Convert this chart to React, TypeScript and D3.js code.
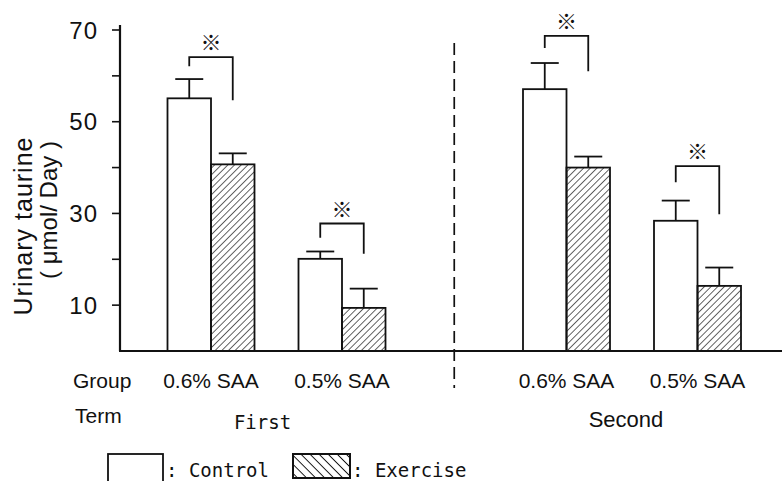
import * as d3 from 'd3';

// ── Data ──────────────────────────────────────────────────────────────────────
const TERMS  = ['First', 'Second'];
const GROUPS = ['0.6% SAA', '0.5% SAA'];
const SERIES = ['Control', 'Exercise'];

// cells in order: First/0.6, First/0.5, Second/0.6, Second/0.5
const CONTROL_MEAN  = [55.1, 20.1, 57.1, 28.4];
const CONTROL_SE    = [4.2, 1.6, 5.7, 4.4];
const EXERCISE_MEAN = [40.7, 9.4, 40.0, 14.2];
const EXERCISE_SE   = [2.4, 4.2, 2.4, 4.0];

// significance brackets (value of top bar, and where each leg stops)
const BRACKET_TOP       = [64.1, 27.8, 68.7, 40.3];
const BRACKET_LEFT_END  = [62.1, 24.7, 66.1, 36.8];
const BRACKET_RIGHT_END = [54.7, 21.2, 61.0, 29.8];

const Y_TICKS  = [10, 20, 30, 40, 50, 60, 70];
const Y_LABELS = [10, 30, 50, 70];

// ── Layout ────────────────────────────────────────────────────────────────────
const W = 782;
const H = 481;
const AXIS_X = 120;
const AXIS_TOP = 25;
const BASE_Y = 351;

const SANS = '"Liberation Sans", Arial, sans-serif';
const MONO = '"DejaVu Sans Mono", monospace';
const INK = '#111';

export default function App() {
  const y = d3.scaleLinear().domain([0, 70]).range([BASE_Y, 30]);
  const termX = d3.scalePoint<string>().domain(TERMS).range([276.5, 632]);
  const groupX = d3.scalePoint<string>().domain(GROUPS).range([-65.5, 65.5]);
  const barX = d3.scaleBand<string>().domain(SERIES).range([-43.5, 43.5]);
  const BW = barX.bandwidth();

  const cells = TERMS.flatMap((t, ti) =>
    GROUPS.map((g, gi) => {
      const i = ti * 2 + gi;
      return {
        i, term: t, group: g,
        cx: (termX(t) ?? 0) + (groupX(g) ?? 0),
        vals: [
          { s: SERIES[0], mean: CONTROL_MEAN[i], se: CONTROL_SE[i] },
          { s: SERIES[1], mean: EXERCISE_MEAN[i], se: EXERCISE_SE[i] },
        ],
      };
    })
  );

  const sepX = ((termX(TERMS[0]) ?? 0) + (termX(TERMS[1]) ?? 0)) / 2;

  return (
    <svg width={W} height={H} style={{ position: 'absolute', left: 0, top: 0, background: '#fff' }}>
      <defs>
        <pattern id="hatch" width={4.7} height={4.7} patternUnits="userSpaceOnUse" patternTransform="rotate(45)">
          <line x1={0} y1={0} x2={0} y2={4.7} stroke={INK} strokeWidth={1.3} />
        </pattern>
        <pattern id="hatchLegend" width={6.4} height={6.4} patternUnits="userSpaceOnUse" patternTransform="rotate(-45)">
          <line x1={0} y1={0} x2={0} y2={6.4} stroke={INK} strokeWidth={1.9} />
        </pattern>
      </defs>

      {/* y axis */}
      <line x1={AXIS_X} x2={AXIS_X} y1={AXIS_TOP} y2={BASE_Y} stroke={INK} strokeWidth={2.2} />
      {Y_TICKS.map(v => (
        <line key={v} x1={AXIS_X - 8} x2={AXIS_X} y1={y(v)} y2={y(v)} stroke={INK} strokeWidth={1.6} />
      ))}
      {Y_LABELS.map(v => (
        <text key={v} x={98} y={y(v)} textAnchor="end" dominantBaseline="central"
          fontSize={24} letterSpacing={1} fontFamily={SANS} fill={INK}>{v}</text>
      ))}

      {/* y label */}
      <text transform="translate(32,226) rotate(-90)" textAnchor="middle"
        fontSize={25} letterSpacing={1} fontFamily={SANS} fill={INK}>Urinary taurine</text>
      <text transform="translate(57,210) rotate(-90)" textAnchor="middle"
        fontSize={24} fontFamily={SANS} fill={INK}>( μmol/ Day )</text>

      {/* term separator */}
      <line x1={sepX} x2={sepX} y1={43} y2={388} stroke={INK} strokeWidth={1.7} strokeDasharray="12,6" />

      {/* bars */}
      {cells.map(c => (
        <g key={c.i}>
          {c.vals.map((d, k) => {
            const x0 = c.cx + (barX(d.s) ?? 0);
            const xm = x0 + BW / 2;
            return (
              <g key={d.s}>
                <line x1={xm} x2={xm} y1={y(d.mean)} y2={y(d.mean + d.se)} stroke={INK} strokeWidth={1.8} />
                <line x1={xm - 14} x2={xm + 14} y1={y(d.mean + d.se)} y2={y(d.mean + d.se)} stroke={INK} strokeWidth={1.8} />
                <rect x={x0} y={y(d.mean)} width={BW} height={BASE_Y - y(d.mean)}
                  fill={k === 0 ? '#fff' : 'url(#hatch)'} stroke={INK} strokeWidth={1.8} />
              </g>
            );
          })}
          {(() => {
            const xl = c.cx + (barX(SERIES[0]) ?? 0) + BW / 2;
            const xr = c.cx + (barX(SERIES[1]) ?? 0) + BW / 2;
            const yt = y(BRACKET_TOP[c.i]);
            return (
              <g>
                <path d={`M${xl},${y(BRACKET_LEFT_END[c.i])}V${yt}H${xr}V${y(BRACKET_RIGHT_END[c.i])}`}
                  fill="none" stroke={INK} strokeWidth={1.8} />
                <text x={(xl + xr) / 2} y={yt - 16} textAnchor="middle" dominantBaseline="central"
                  fontSize={21} fontWeight={700} fontFamily='"Noto Sans CJK JP", sans-serif' fill={INK}>※</text>
              </g>
            );
          })()}
        </g>
      ))}

      {/* x axis */}
      <line x1={AXIS_X - 1} x2={W} y1={BASE_Y} y2={BASE_Y} stroke={INK} strokeWidth={2.2} />

      {/* category labels */}
      <text x={73} y={388} fontSize={21} fontFamily={SANS} fill={INK}>Group</text>
      <text x={75} y={423} fontSize={21} fontFamily={SANS} fill={INK}>Term</text>
      {cells.map(c => (
        <text key={c.i} x={c.cx} y={388} textAnchor="middle" fontSize={21} fontFamily={SANS} fill={INK}>{c.group}</text>
      ))}
      <text x={(termX(TERMS[0]) ?? 0) - 14} y={429} textAnchor="middle" fontSize={19} fontFamily={MONO} fill={INK}>{TERMS[0]}</text>
      <text x={(termX(TERMS[1]) ?? 0) - 6} y={427} textAnchor="middle" fontSize={22} fontFamily={SANS} fill={INK}>{TERMS[1]}</text>

      {/* legend */}
      <rect x={108} y={454} width={55} height={32} fill="#fff" stroke={INK} strokeWidth={1.8} />
      <text x={166} y={477} fontSize={19} fontFamily={MONO} fill={INK}>: {SERIES[0]}</text>
      <rect x={293} y={454} width={57} height={24} fill="url(#hatchLegend)" stroke={INK} strokeWidth={2} />
      <text x={352} y={477} fontSize={19} fontFamily={MONO} fill={INK}>: {SERIES[1]}</text>
    </svg>
  );
}
